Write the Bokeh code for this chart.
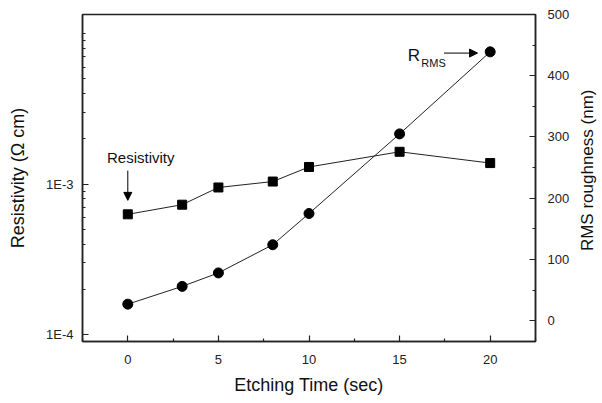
import math
from bokeh.plotting import figure
from bokeh.layouts import row
from bokeh.models import (Range1d, LinearAxis, LinearScale, FixedTicker, CustomJSTickFormatter,
                          Label, Arrow, NormalHead)
from bokeh.core.properties import value
from bokeh.embed import file_html
from bokeh.resources import INLINE

# ---- data ----
etch_time = [0, 3, 5, 8, 10, 15, 20]
resistivity = [6.3e-4, 7.3e-4, 9.5e-4, 1.04e-3, 1.30e-3, 1.64e-3, 1.38e-3]
rms_roughness = [27, 56, 78, 124, 175, 305, 439]

x_ticks = [0, 5, 10, 15, 20]
x_minor = [-2.5, 2.5, 7.5, 12.5, 17.5, 22.5]
res_major = [1e-4, 1e-3]
res_minor = [m * 1e-4 for m in range(2, 10)] + [m * 1e-3 for m in range(2, 10)] + [1e-2]
rms_ticks = [0, 100, 200, 300, 400, 500]
rms_minor = [-50, 50, 150, 250, 350, 450]

FONT = "Liberation Sans"

p = figure(width=575, height=403, output_backend="svg", toolbar_location=None,
           y_axis_type="log", x_range=Range1d(-2.5, 22.5), y_range=Range1d(9.0e-5, 1.34e-2),
           min_border_left=82, min_border_right=40, min_border_top=14, min_border_bottom=62)
p.extra_y_ranges = {"rms": Range1d(-34, 500)}
p.extra_y_scales = {"rms": LinearScale()}

p.grid.visible = False
p.background_fill_color = "white"
p.border_fill_color = "white"
p.outline_line_color = "#222222"
p.outline_line_width = 1.5

def style_axis(ax):
    ax.axis_line_color = "#222222"
    ax.axis_line_width = 1.5
    ax.major_tick_line_color = "#222222"
    ax.minor_tick_line_color = "#222222"
    ax.major_tick_line_width = 1.2
    ax.minor_tick_line_width = 1.2
    ax.major_tick_in = 6
    ax.major_tick_out = 0
    ax.minor_tick_in = 3
    ax.minor_tick_out = 0
    ax.major_label_text_font = FONT
    ax.major_label_text_font_size = "13px"
    ax.major_label_text_color = "#222222"
    ax.axis_label_text_font = FONT
    ax.axis_label_text_font_style = "normal"
    ax.axis_label_text_color = "#111111"

# x axis
xa = p.xaxis[0]
style_axis(xa)
xa.ticker = FixedTicker(ticks=x_ticks, minor_ticks=x_minor)
xa.axis_label = "Etching Time (sec)"
xa.axis_label_text_font_size = "18px"
xa.major_label_standoff = 13
xa.axis_label_standoff = 8

# left log axis
ya = p.yaxis[0]
style_axis(ya)
ya.ticker = FixedTicker(ticks=res_major, minor_ticks=res_minor)
ya.formatter = CustomJSTickFormatter(code="return '1E' + Math.round(Math.log10(tick));")
ya.axis_label = "Resistivity (Ω cm)"
ya.axis_label_text_font_size = "18px"
ya.major_label_standoff = 9
ya.axis_label_standoff = 15

# right linear axis
ra = LinearAxis(y_range_name="rms")
style_axis(ra)
ra.ticker = FixedTicker(ticks=rms_ticks, minor_ticks=rms_minor)
ra.major_label_standoff = 12
p.add_layout(ra, "right")

# series
p.line(etch_time, resistivity, line_color="#222222", line_width=1)
p.scatter(etch_time, resistivity, marker="square", size=9, fill_color="black", line_color="black")
p.line(etch_time, rms_roughness, line_color="#222222", line_width=1, y_range_name="rms")
p.scatter(etch_time, rms_roughness, marker="circle", size=10, fill_color="black",
          line_color="black", y_range_name="rms")

# annotations
p.add_layout(Label(x=-1.15, y=1.50e-3, text="Resistivity", text_font=FONT,
                   text_font_size="15px", text_color="#111111", text_baseline="alphabetic"))
p.add_layout(Arrow(x_start=0, y_start=1.23e-3, x_end=0, y_end=7.8e-4,
                   line_color="black", line_width=1,
                   end=NormalHead(size=8, fill_color="black", line_color="black")))

p.add_layout(Label(x=15.45, y=433, text="R", y_range_name="rms", text_font=FONT,
                   text_font_size="17px", text_color="#111111", text_baseline="alphabetic"))
p.add_layout(Label(x=16.2, y=421, text="RMS", y_range_name="rms", text_font=FONT,
                   text_font_size="11px", text_color="#111111", text_baseline="alphabetic"))
p.add_layout(Arrow(x_start=17.45, y_start=437, x_end=19.3, y_end=437, y_range_name="rms",
                   line_color="black", line_width=1,
                   end=NormalHead(size=8, fill_color="black", line_color="black")))

# right-hand axis title, in a narrow strip so it reads bottom-to-top
t = figure(width=27, height=403, output_backend="svg", toolbar_location=None,
           x_range=Range1d(0, 27), y_range=Range1d(0, 403), min_border=0)
t.axis.visible = False
t.grid.visible = False
t.outline_line_color = None
t.background_fill_color = "white"
t.border_fill_color = "white"
t.text(x=[12], y=[211], text=["RMS roughness (nm)"], angle=math.pi / 2,
       text_align="center", text_baseline="middle", text_font=value(FONT),
       text_font_size="17px", text_color="#111111")

layout = row(p, t, spacing=0)
open("out.html", "w").write(file_html(layout, INLINE))
